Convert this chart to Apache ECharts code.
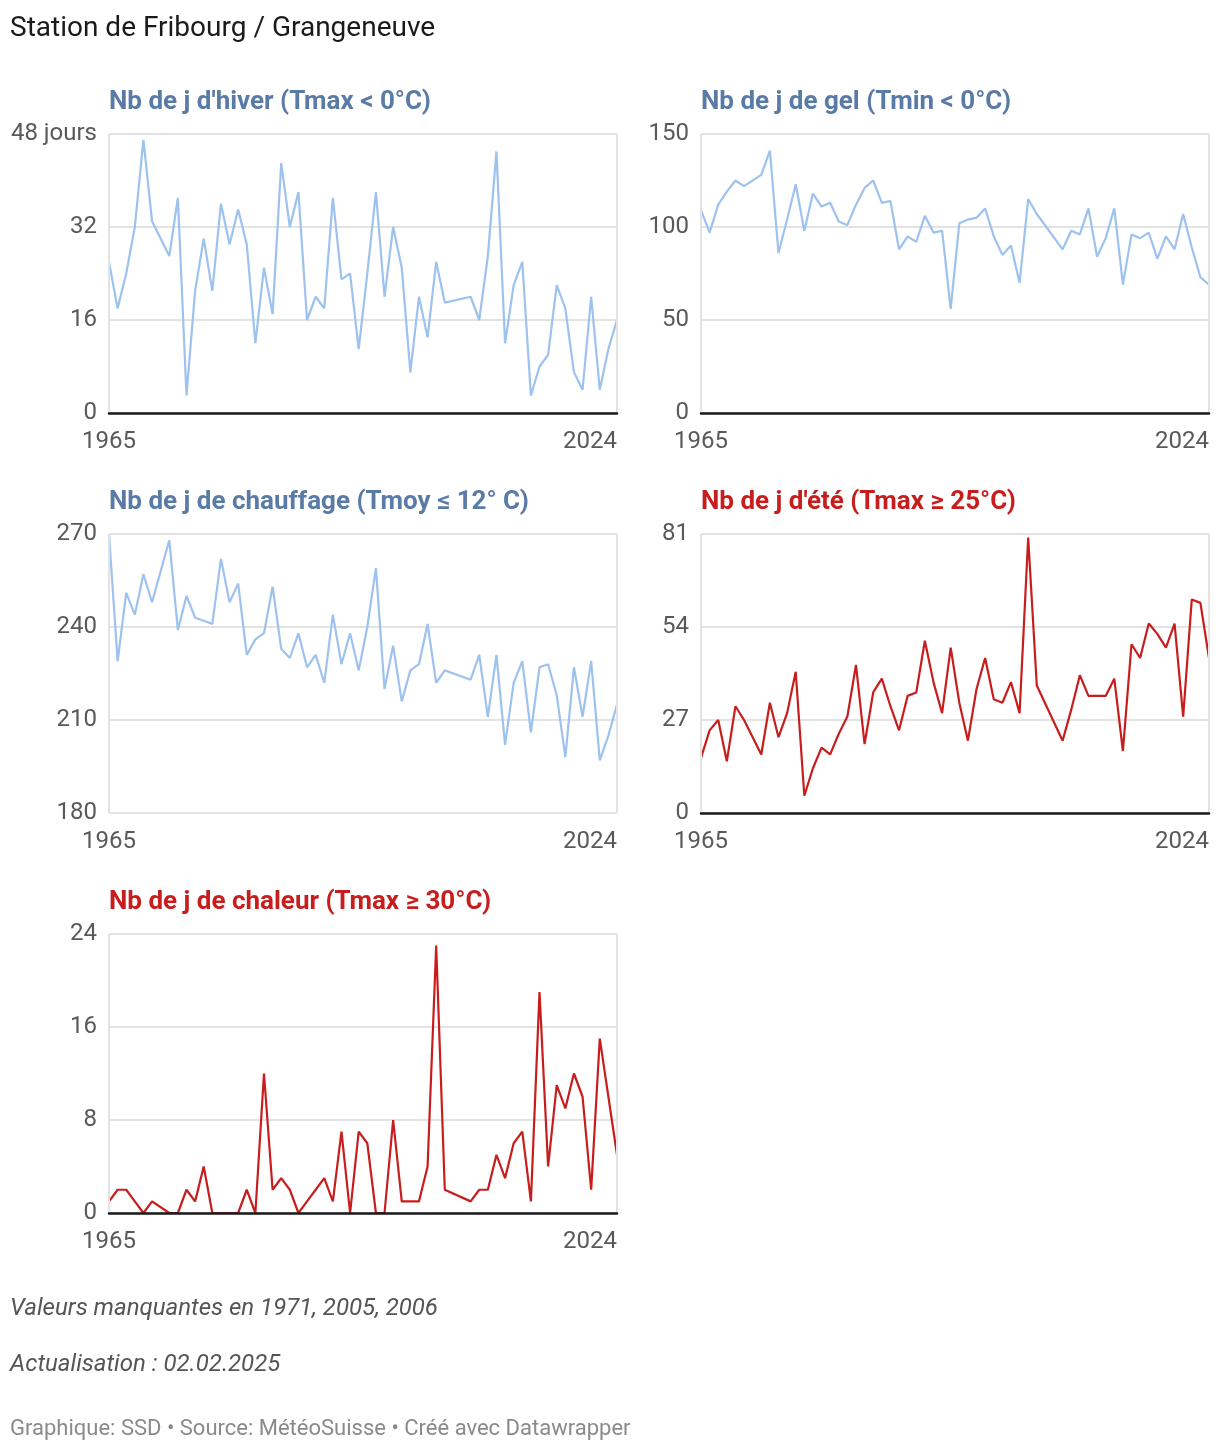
<!DOCTYPE html>
<html>
<head>
<meta charset="utf-8">
<script src="https://cdn.jsdelivr.net/npm/echarts@6/dist/echarts.min.js"></script>
<style>
html,body{margin:0;padding:0;background:#fff;}
#c{width:1220px;height:1452px;}
</style>
</head>
<body>
<div id="c"></div>
<script>
// Years 1965..2024 (missing values: 1971, 2005, 2006)
const years = [];
for (let y = 1965; y <= 2024; y++) years.push(String(y));

const hiver = [26,18,24,32,47,33,null,27,37,3,21,30,21,36,29,35,29,12,25,17,43,32,38,16,20,18,37,23,24,11,24,38,20,32,25,7,20,13,26,19,null,null,20,16,27,45,12,22,26,3,8,10,22,18,7,4,20,4,11,16];
const gel = [109,97,112,119,125,122,null,128,141,86,104,123,98,118,111,113,103,101,112,121,125,113,114,88,95,92,106,97,98,56,102,104,105,110,95,85,90,70,115,107,null,null,88,98,96,110,84,94,110,69,96,94,97,83,95,88,107,89,73,69];
const chauffage = [270,229,251,244,257,248,null,268,239,250,243,242,241,262,248,254,231,236,238,253,233,230,238,227,231,222,244,228,238,226,240,259,220,234,216,226,228,241,222,226,null,null,223,231,211,231,202,222,229,206,227,228,218,198,227,211,229,197,205,215];
const ete = [16,24,27,15,31,27,null,17,32,22,29,41,5,13,19,17,23,28,43,20,35,39,31,24,34,35,50,38,29,48,32,21,36,45,33,32,38,29,80,37,null,null,21,30,40,34,34,34,39,18,49,45,55,52,48,55,28,62,61,45];
const chaleur = [1,2,2,1,0,1,null,0,0,2,1,4,0,0,0,0,2,0,12,2,3,2,0,1,2,3,1,7,0,7,6,0,0,8,1,1,1,4,23,2,null,null,1,2,2,5,3,6,7,1,19,4,11,9,12,10,2,15,10,5];

const panelTitles = [
  "Nb de j d'hiver (Tmax < 0°C)",
  "Nb de j de gel (Tmin < 0°C)",
  "Nb de j de chauffage (Tmoy ≤ 12° C)",
  "Nb de j d'été (Tmax ≥ 25°C)",
  "Nb de j de chaleur (Tmax ≥ 30°C)"
];
const yMin = [0, 0, 180, 0, 0];
const yMax = [48, 150, 270, 81, 24];
const yStep = [16, 50, 30, 27, 8];
const seriesData = [hiver, gel, chauffage, ete, chaleur];

const BLUE_LINE = '#9dc2ee';
const RED_LINE = '#c71e1d';
const BLUE_TITLE = '#5a7ba6';
const RED_TITLE = '#c71e1d';
const lineColors = [BLUE_LINE, BLUE_LINE, BLUE_LINE, RED_LINE, RED_LINE];
const titleColors = [BLUE_TITLE, BLUE_TITLE, BLUE_TITLE, RED_TITLE, RED_TITLE];

// layout
const grids = [
  {left:109, top:134, width:508, height:279},
  {left:701, top:134, width:508, height:279},
  {left:109, top:534, width:508, height:279},
  {left:701, top:534, width:508, height:279},
  {left:109, top:934, width:508, height:279}
];

const FONT = 'Roboto, "Noto Sans", sans-serif';
const last = years.length - 1;

const option = {
  animation: false,
  backgroundColor: '#ffffff',
  textStyle: {fontFamily: FONT},
  title: [
    {text: 'Station de Fribourg / Grangeneuve', left: 10, top: 12, padding: 0,
     textStyle: {fontFamily: FONT, fontSize: 28, fontWeight: 'normal', color: '#1a1a1a', lineHeight: 34}}
  ].concat(panelTitles.map((t, i) => ({
    text: t, left: grids[i].left, top: grids[i].top - 48, padding: 0,
    textStyle: {fontFamily: FONT, fontSize: 26, fontWeight: 'bold', color: titleColors[i], lineHeight: 32}
  }))).concat([
    {text: 'Valeurs manquantes en 1971, 2005, 2006', left: 10, top: 1294, padding: 0,
     textStyle: {fontFamily: FONT, fontSize: 24, fontStyle: 'italic', fontWeight: 'normal', color: '#555555', lineHeight: 30}},
    {text: 'Actualisation : 02.02.2025', left: 10, top: 1350, padding: 0,
     textStyle: {fontFamily: FONT, fontSize: 24, fontStyle: 'italic', fontWeight: 'normal', color: '#555555', lineHeight: 30}},
    {text: 'Graphique: SSD • Source: MétéoSuisse • Créé avec Datawrapper', left: 10, top: 1415, padding: 0,
     textStyle: {fontFamily: FONT, fontSize: 22, fontWeight: 'normal', color: '#8a8a8a', lineHeight: 28}}
  ]),
  grid: grids.map(g => Object.assign({containLabel: false}, g)),
  xAxis: grids.map((g, i) => ({
    type: 'category',
    gridIndex: i,
    data: years,
    boundaryGap: false,
    z: 3,
    axisTick: {show: false},
    axisLine: {show: i !== 2, lineStyle: {color: '#1a1a1a', width: 2.5}},
    splitLine: {show: true, interval: (idx) => idx === 0 || idx === last,
                lineStyle: {color: '#e3e3e3', width: 2}},
    axisLabel: {
      interval: (idx) => idx === 0 || idx === last,
      alignMaxLabel: 'right',
      margin: 17,
      fontFamily: FONT, fontSize: 24, color: '#595959'
    }
  })),
  yAxis: grids.map((g, i) => ({
    type: 'value',
    gridIndex: i,
    min: yMin[i], max: yMax[i], interval: yStep[i],
    axisLine: {show: false},
    axisTick: {show: false},
    splitLine: {show: true, lineStyle: {color: '#e3e3e3', width: 2}},
    axisLabel: {
      margin: 12,
      fontFamily: FONT, fontSize: 24, color: '#595959',
      padding: [8, 0, 0, 0],
      formatter: (v) => (i === 0 && v === yMax[0]) ? v + ' jours' : String(v)
    }
  })),
  series: seriesData.map((d, i) => ({
    type: 'line',
    xAxisIndex: i, yAxisIndex: i,
    data: d,
    connectNulls: true,
    showSymbol: false,
    symbol: 'none',
    z: 2,
    lineStyle: {color: lineColors[i], width: 2.2},
    itemStyle: {color: lineColors[i]}
  }))
};

const chart = echarts.init(document.getElementById('c'), null, {renderer: 'canvas'});
chart.setOption(option);
</script>
</body>
</html>
